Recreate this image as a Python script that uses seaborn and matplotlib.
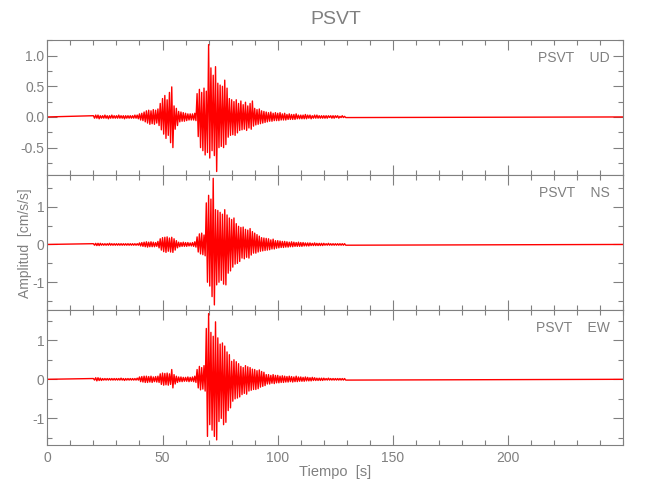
import numpy as np
import pandas as pd
import matplotlib
matplotlib.use("Agg")
import matplotlib.pyplot as plt
from matplotlib.ticker import MultipleLocator, FormatStrFormatter
import seaborn as sns

# station / components
station = "PSVT"
components = ["UD", "NS", "EW"]

t_first = 20
t_last = 250

# peak values (cm/s/s) per second, t = 20..129 s
ud_up = [0.02, 0.03, 0.03, 0.02, 0.02, 0.03, 0.02, 0.02, 0.03, 0.02,
         0.02, 0.03, 0.02, 0.02, 0.02, 0.02, 0.02, 0.02, 0.03, 0.03,
         0.05, 0.06, 0.08, 0.10, 0.11, 0.10, 0.12, 0.11, 0.13, 0.22,
         0.30, 0.35, 0.28, 0.40, 0.49, 0.18, 0.14, 0.09, 0.08, 0.07,
         0.06, 0.05, 0.05, 0.05, 0.06, 0.38, 0.45, 0.40, 0.47, 0.42,
         1.18, 0.80, 0.68, 0.82, 0.55, 0.52, 0.50, 0.60, 0.47, 0.30,
         0.28, 0.25, 0.28, 0.22, 0.26, 0.20, 0.24, 0.18, 0.22, 0.26,
         0.14, 0.12, 0.13, 0.10, 0.09, 0.08, 0.07, 0.08, 0.06, 0.07,
         0.06, 0.07, 0.05, 0.06, 0.04, 0.05, 0.04, 0.04, 0.05, 0.03,
         0.03, 0.03, 0.04, 0.03, 0.03, 0.02, 0.03, 0.03, 0.02, 0.02,
         0.02, 0.02, 0.02, 0.02, 0.02, 0.02, 0.02, 0.01, 0.02, 0.01]
ud_down = [-0.02, -0.02, -0.03, -0.02, -0.02, -0.02, -0.03, -0.02, -0.02, -0.02,
           -0.02, -0.02, -0.02, -0.03, -0.02, -0.02, -0.02, -0.02, -0.02, -0.03,
           -0.05, -0.06, -0.08, -0.10, -0.12, -0.11, -0.12, -0.10, -0.14, -0.21,
           -0.28, -0.35, -0.30, -0.42, -0.50, -0.20, -0.14, -0.08, -0.07, -0.07,
           -0.06, -0.05, -0.05, -0.05, -0.06, -0.32, -0.50, -0.55, -0.62, -0.58,
           -0.67, -0.55, -0.63, -0.89, -0.50, -0.48, -0.50, -0.45, -0.33, -0.30,
           -0.29, -0.30, -0.26, -0.22, -0.21, -0.20, -0.22, -0.18, -0.20, -0.15,
           -0.13, -0.12, -0.11, -0.10, -0.09, -0.08, -0.07, -0.07, -0.06, -0.06,
           -0.06, -0.05, -0.05, -0.05, -0.04, -0.04, -0.04, -0.04, -0.03, -0.03,
           -0.03, -0.03, -0.03, -0.02, -0.03, -0.02, -0.02, -0.02, -0.02, -0.02,
           -0.02, -0.02, -0.01, -0.02, -0.02, -0.01, -0.02, -0.01, -0.01, -0.01]

ns_up = [0.02, 0.03, 0.03, 0.03, 0.02, 0.02, 0.02, 0.03, 0.02, 0.02,
         0.02, 0.02, 0.02, 0.02, 0.02, 0.02, 0.02, 0.02, 0.02, 0.02,
         0.04, 0.05, 0.06, 0.07, 0.06, 0.07, 0.06, 0.05, 0.08, 0.15,
         0.18, 0.19, 0.20, 0.17, 0.19, 0.15, 0.10, 0.06, 0.05, 0.06,
         0.05, 0.05, 0.04, 0.05, 0.07, 0.20, 0.28, 0.30, 0.25, 1.10,
         1.30, 1.20, 1.75, 0.92, 0.90, 0.85, 0.80, 0.92, 0.78, 0.70,
         0.66, 0.70, 0.55, 0.48, 0.45, 0.46, 0.40, 0.38, 0.42, 0.34,
         0.30, 0.26, 0.22, 0.18, 0.17, 0.16, 0.15, 0.12, 0.14, 0.10,
         0.10, 0.09, 0.08, 0.08, 0.07, 0.06, 0.07, 0.06, 0.05, 0.06,
         0.05, 0.05, 0.04, 0.04, 0.04, 0.03, 0.04, 0.03, 0.03, 0.03,
         0.03, 0.02, 0.03, 0.02, 0.02, 0.02, 0.02, 0.02, 0.02, 0.02]
ns_down = [-0.02, -0.03, -0.03, -0.02, -0.02, -0.02, -0.02, -0.02, -0.02, -0.02,
           -0.02, -0.02, -0.02, -0.02, -0.02, -0.02, -0.02, -0.02, -0.02, -0.02,
           -0.04, -0.05, -0.06, -0.07, -0.06, -0.06, -0.06, -0.05, -0.09, -0.15,
           -0.19, -0.21, -0.18, -0.20, -0.21, -0.15, -0.09, -0.06, -0.05, -0.05,
           -0.05, -0.04, -0.04, -0.05, -0.07, -0.20, -0.25, -0.27, -0.30, -1.00,
           -1.10, -1.38, -1.60, -1.07, -1.00, -0.95, -1.05, -1.07, -0.76, -0.70,
           -0.60, -0.52, -0.50, -0.45, -0.36, -0.38, -0.34, -0.36, -0.28, -0.23,
           -0.23, -0.20, -0.18, -0.17, -0.16, -0.15, -0.14, -0.12, -0.12, -0.10,
           -0.09, -0.08, -0.08, -0.07, -0.07, -0.06, -0.06, -0.05, -0.05, -0.05,
           -0.05, -0.04, -0.04, -0.04, -0.03, -0.03, -0.03, -0.03, -0.03, -0.03,
           -0.02, -0.02, -0.02, -0.02, -0.02, -0.02, -0.02, -0.02, -0.02, -0.02]

ew_up = [0.02, 0.04, 0.04, 0.03, 0.02, 0.02, 0.02, 0.02, 0.02, 0.02,
         0.02, 0.02, 0.03, 0.02, 0.02, 0.02, 0.02, 0.02, 0.02, 0.03,
         0.06, 0.07, 0.08, 0.08, 0.07, 0.08, 0.06, 0.07, 0.08, 0.14,
         0.16, 0.15, 0.16, 0.14, 0.25, 0.12, 0.08, 0.06, 0.06, 0.05,
         0.05, 0.06, 0.05, 0.06, 0.08, 0.25, 0.33, 0.30, 0.35, 1.30,
         1.68, 1.20, 1.10, 1.47, 1.06, 0.90, 0.93, 0.85, 0.70, 0.63,
         0.46, 0.50, 0.45, 0.40, 0.33, 0.30, 0.35, 0.32, 0.30, 0.26,
         0.25, 0.22, 0.24, 0.20, 0.18, 0.12, 0.12, 0.10, 0.12, 0.10,
         0.10, 0.08, 0.09, 0.08, 0.07, 0.08, 0.07, 0.06, 0.08, 0.06,
         0.06, 0.05, 0.06, 0.05, 0.04, 0.05, 0.04, 0.03, 0.03, 0.03,
         0.03, 0.02, 0.03, 0.02, 0.02, 0.02, 0.02, 0.02, 0.02, 0.02]
ew_down = [-0.02, -0.04, -0.03, -0.03, -0.02, -0.02, -0.02, -0.02, -0.02, -0.02,
           -0.02, -0.02, -0.02, -0.03, -0.02, -0.02, -0.02, -0.02, -0.02, -0.02,
           -0.06, -0.07, -0.08, -0.08, -0.07, -0.08, -0.06, -0.07, -0.08, -0.13,
           -0.15, -0.14, -0.15, -0.13, -0.22, -0.12, -0.08, -0.06, -0.06, -0.05,
           -0.05, -0.06, -0.05, -0.06, -0.08, -0.22, -0.27, -0.25, -0.30, -1.46,
           -1.16, -1.30, -1.46, -1.55, -1.08, -1.00, -1.16, -1.10, -0.80, -0.73,
           -0.56, -0.50, -0.48, -0.45, -0.39, -0.36, -0.38, -0.30, -0.28, -0.26,
           -0.26, -0.24, -0.20, -0.18, -0.16, -0.12, -0.12, -0.10, -0.11, -0.09,
           -0.09, -0.08, -0.08, -0.07, -0.07, -0.06, -0.07, -0.06, -0.06, -0.05,
           -0.05, -0.05, -0.04, -0.04, -0.04, -0.03, -0.03, -0.03, -0.03, -0.03,
           -0.02, -0.02, -0.02, -0.02, -0.02, -0.02, -0.02, -0.02, -0.02, -0.02]

ups = [ud_up, ns_up, ew_up]
downs = [ud_down, ns_down, ew_down]

# axis ranges and tick steps for each panel
ylims = [(-0.95, 1.25), (-1.74, 1.83), (-1.68, 1.77)]
major_step = [0.5, 1, 1]
minor_step = [0.25, 0.5, 0.5]
y_fmt = ["%.1f", "%d", "%d"]
x_ticks = [0, 50, 100, 150, 200]

grey = "#808080"

sns.set_style("ticks")
plt.rcParams['font.family'] = ['Liberation Sans', 'DejaVu Sans']
plt.rcParams['axes.unicode_minus'] = False

fig = plt.figure(figsize=(6.5, 5), dpi=100)

left, width = 0.0728, 0.8862
bottoms = [0.6496, 0.3796, 0.11]
height = 0.2698

for i, comp in enumerate(components):
    ax = fig.add_axes([left, bottoms[i], width, height])

    # interleave the per-second max/min readings into one trace
    t_sec = np.arange(t_first, t_first + len(ups[i]))
    tt = np.concatenate([[0], np.column_stack([t_sec, t_sec + 0.5]).ravel(), [t_last]])
    vv = np.concatenate([[0], np.column_stack([ups[i], downs[i]]).ravel(), [0]])
    df = pd.DataFrame({"t": tt, "v": vv})

    sns.lineplot(data=df, x="t", y="v", sort=False, estimator=None,
                 color="red", linewidth=1.0, ax=ax)

    ax.set_xlim(0, t_last)
    ax.set_ylim(*ylims[i])
    ax.set_xticks(x_ticks)
    ax.xaxis.set_minor_locator(MultipleLocator(10))
    ax.yaxis.set_major_locator(MultipleLocator(major_step[i]))
    ax.yaxis.set_minor_locator(MultipleLocator(minor_step[i]))
    ax.yaxis.set_major_formatter(FormatStrFormatter(y_fmt[i]))

    ax.tick_params(which="both", direction="in", top=True, right=True,
                   color=grey, labelcolor=grey, width=0.8, labelsize=10, pad=2)
    ax.tick_params(which="major", length=7)
    ax.tick_params(which="minor", length=3.5)
    for s in ax.spines.values():
        s.set_color(grey)
        s.set_linewidth(0.8)

    ax.set_xlabel("")
    ax.set_ylabel("")
    if i < 2:
        ax.tick_params(axis="x", labelbottom=False)
    else:
        ax.tick_params(axis="x", pad=4)
        ax.set_xlabel("Tiempo  [s]", color=grey, fontsize=10.5, va="center")
        ax.xaxis.set_label_coords(0.5, -0.2)
    if i == 1:
        ax.set_ylabel("Amplitud  [cm/s/s]", color=grey, fontsize=10, va="center")
        ax.yaxis.set_label_coords(-0.039, 0.5)

    ax.text(0.976, 0.87, station + "    " + comp, transform=ax.transAxes,
            ha="right", va="center", color=grey, fontsize=10)

fig.text(0.516, 0.962, station, ha="center", va="center", color=grey, fontsize=14)

fig.savefig("out.png", dpi=100)
